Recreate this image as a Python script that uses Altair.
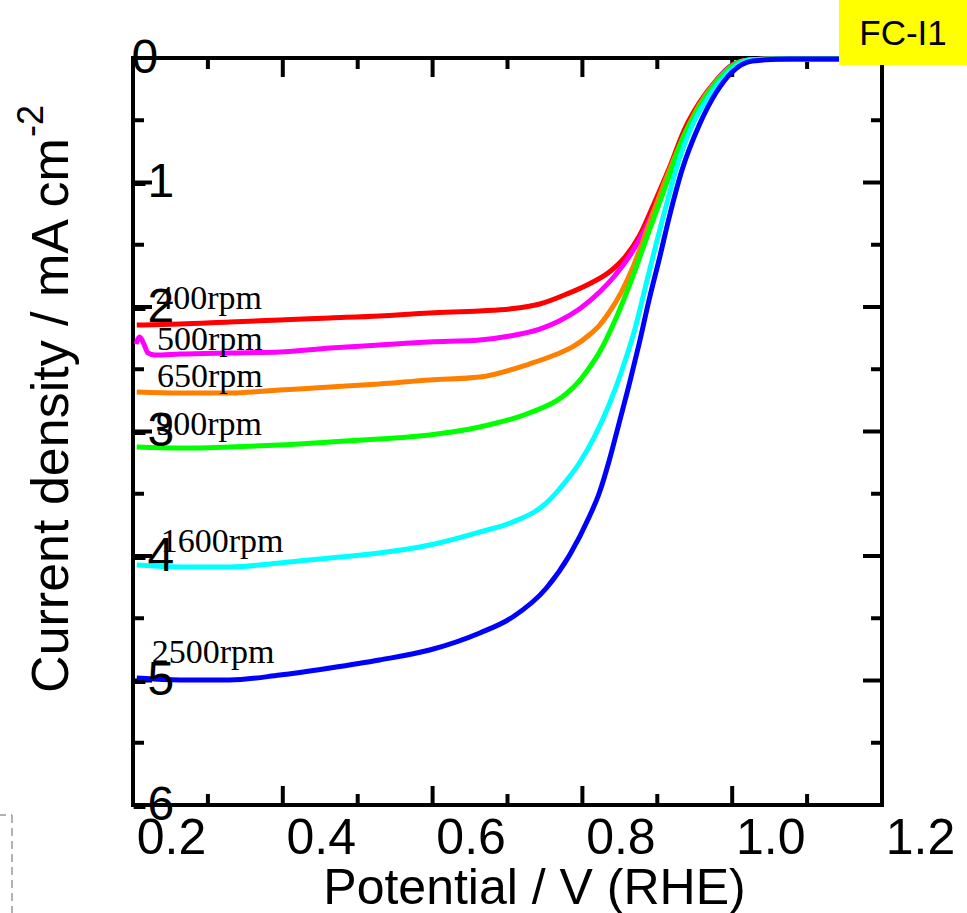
import altair as alt
import pandas as pd

# ---------------- data (Potential V vs RHE, current density mA cm-2) ----------------
series_names = ["400rpm", "500rpm", "650rpm", "900rpm", "1600rpm", "2500rpm"]
series_colors = ["#FF0000", "#FF00FF", "#FF8000", "#00FF00", "#00FFFF", "#0000FF"]

v_400 = [0.205, 0.263, 0.329, 0.396, 0.463, 0.529, 0.596, 0.663, 0.703, 0.743, 0.779, 0.809, 0.836,
         0.856, 0.876, 0.896, 0.916, 0.936, 0.956, 0.979, 1.000, 1.023, 1.063, 1.129, 1.196]
j_400 = [-2.145, -2.137, -2.120, -2.104, -2.088, -2.072, -2.048, -2.032, -2.016, -1.976, -1.896, -1.815,
         -1.719, -1.606, -1.430, -1.165, -0.884, -0.578, -0.361, -0.177, -0.056, -0.016, -0.008,
         -0.008, -0.008]

v_500 = [0.204, 0.209, 0.215, 0.220, 0.229, 0.263, 0.329, 0.396, 0.463, 0.529, 0.596, 0.663, 0.703,
         0.743, 0.769, 0.796, 0.823, 0.843, 0.863, 0.883, 0.903, 0.923, 0.943, 0.963, 0.983, 1.003,
         1.023, 1.063, 1.129, 1.196]
j_500 = [-2.297, -2.241, -2.305, -2.369, -2.386, -2.378, -2.369, -2.361, -2.329, -2.305, -2.281, -2.265,
         -2.233, -2.177, -2.112, -2.016, -1.880, -1.751, -1.590, -1.382, -1.116, -0.819, -0.538,
         -0.313, -0.153, -0.048, -0.016, -0.008, -0.008, -0.008]

v_650 = [0.205, 0.263, 0.329, 0.396, 0.463, 0.529, 0.596, 0.663, 0.729, 0.763, 0.789, 0.809, 0.823,
         0.836, 0.852, 0.867, 0.889, 0.912, 0.936, 0.956, 0.979, 1.000, 1.023, 1.063, 1.129, 1.196]
j_650 = [-2.683, -2.691, -2.691, -2.667, -2.643, -2.618, -2.586, -2.562, -2.458, -2.386, -2.313, -2.225,
         -2.145, -2.040, -1.880, -1.687, -1.333, -0.964, -0.618, -0.378, -0.185, -0.064, -0.016,
         -0.008, -0.008, -0.008]

v_900 = [0.205, 0.263, 0.329, 0.396, 0.463, 0.529, 0.596, 0.663, 0.729, 0.773, 0.796, 0.809, 0.823,
         0.845, 0.867, 0.889, 0.912, 0.933, 0.956, 0.979, 1.000, 1.023, 1.063, 1.129, 1.196]
j_900 = [-3.124, -3.133, -3.124, -3.108, -3.084, -3.060, -3.028, -2.964, -2.851, -2.723, -2.594, -2.490,
         -2.361, -2.088, -1.759, -1.390, -1.012, -0.659, -0.394, -0.193, -0.064, -0.016,
         -0.008, -0.008, -0.008]

v_1600 = [0.205, 0.263, 0.329, 0.396, 0.463, 0.529, 0.596, 0.663, 0.707, 0.752, 0.776, 0.796, 0.816,
          0.836, 0.852, 0.869, 0.889, 0.912, 0.929, 0.945, 0.963, 0.983, 1.003, 1.023, 1.063, 1.129, 1.196]
j_1600 = [-4.072, -4.088, -4.088, -4.056, -4.016, -3.976, -3.912, -3.807, -3.727, -3.574, -3.414, -3.253,
          -3.044, -2.779, -2.522, -2.201, -1.719, -1.181, -0.819, -0.562, -0.361, -0.193, -0.072,
          -0.016, -0.008, -0.008, -0.008]

v_2500 = [0.205, 0.263, 0.329, 0.396, 0.463, 0.529, 0.596, 0.663, 0.707, 0.752, 0.783, 0.809, 0.823,
          0.836, 0.849, 0.863, 0.876, 0.889, 0.903, 0.916, 0.933, 0.956, 0.979, 1.000, 1.027, 1.076,
          1.129, 1.196]
j_2500 = [-4.980, -4.996, -4.996, -4.956, -4.899, -4.835, -4.755, -4.618, -4.490, -4.257, -3.992, -3.687,
          -3.486, -3.229, -2.932, -2.610, -2.289, -1.944, -1.606, -1.277, -0.900, -0.538, -0.273,
          -0.112, -0.024, -0.008, -0.008, -0.008]

# curve labels (anchor in data units)
label_text = ["400rpm", "500rpm", "650rpm", "900rpm", "1600rpm", "2500rpm"]
label_v = [0.231, 0.232, 0.232, 0.231, 0.237, 0.225]
label_j = [-2.016, -2.345, -2.643, -3.028, -3.968, -4.859]

# axes ticks
x_label_values = [0.2, 0.4, 0.6, 0.8, 1.0, 1.2]
x_major_ticks = [0.4, 0.6, 0.8, 1.0]
x_minor_ticks = [0.3, 0.5, 0.7, 0.9, 1.1]
y_label_values = [0, -1, -2, -3, -4, -5, -6]
y_major_ticks = [-1, -2, -3, -4, -5]
y_minor_ticks = [-0.5, -1.5, -2.5, -3.5, -4.5, -5.5]

# ---------------- chart ----------------
W, H = 749, 747
FONT = "Liberation Sans"
MAJ, MIN = 19, 11

xscale = alt.Scale(domain=[0.2, 1.2], nice=False, zero=False)
yscale = alt.Scale(domain=[-6, 0], nice=False, zero=False)

xaxis = alt.Axis(values=x_label_values, format=".1f", ticks=False, tickSize=0, domain=False, grid=False,
                 labelFont=FONT, labelFontSize=50, labelColor="black", labelPadding=8, labelOffset=38,
                 labelFlush=False, labelOverlap=False,
                 title="Potential / V (RHE)", titleFont=FONT, titleFontSize=50, titleFontWeight="normal",
                 titleColor="black", titleX=401, titleY=98, titleAlign="center", titleBaseline="alphabetic")
yaxis = alt.Axis(values=y_label_values, labelExpr="toString(datum.value)", ticks=False, tickSize=0,
                 domain=False, grid=False, labelFont=FONT, labelFontSize=48, labelColor="black",
                 labelAlign="left", labelBaseline="middle", labelPadding=2, labelFlush=False,
                 labelOverlap=False, zindex=1,
                 title="Current density / mA cm", titleFont=FONT, titleFontSize=52, titleFontWeight="normal",
                 titleColor="black", titleX=-66, titleY=357, titleAngle=270, titleAlign="center",
                 titleBaseline="alphabetic")

X = alt.X("V:Q", scale=xscale, axis=xaxis)
Y = alt.Y("J:Q", scale=yscale, axis=yaxis)

# frame
frame = alt.Chart(pd.DataFrame({"a": [0]})).mark_rect(fill=None, stroke="black", strokeWidth=4).encode(
    x=alt.value(0), x2=alt.value(W), y=alt.value(0), y2=alt.value(H))

def xticks(vals, length):
    d = pd.DataFrame({"V": vals})
    bottom = alt.Chart(d).mark_rule(color="black", strokeWidth=4).encode(
        x=X, y=alt.value(H), y2=alt.value(H - length))
    top = alt.Chart(d).mark_rule(color="black", strokeWidth=4).encode(
        x=X, y=alt.value(0), y2=alt.value(length))
    return [bottom, top]

def yticks(vals, length):
    d = pd.DataFrame({"J": vals})
    left = alt.Chart(d).mark_rule(color="black", strokeWidth=4).encode(
        y=Y, x=alt.value(0), x2=alt.value(length))
    right = alt.Chart(d).mark_rule(color="black", strokeWidth=4).encode(
        y=Y, x=alt.value(W), x2=alt.value(W - length))
    return [left, right]

tick_layers = xticks(x_major_ticks, MAJ) + xticks(x_minor_ticks, MIN) + \
    yticks(y_major_ticks, MAJ) + yticks(y_minor_ticks, MIN)

all_v = [v_400, v_500, v_650, v_900, v_1600, v_2500]
all_j = [j_400, j_500, j_650, j_900, j_1600, j_2500]
line_layers = []
for name, col, vs, js in zip(series_names, series_colors, all_v, all_j):
    d = pd.DataFrame({"V": vs, "J": js, "series": name})
    line_layers.append(
        alt.Chart(d).mark_line(color=col, strokeWidth=5, interpolate="monotone").encode(x=X, y=Y)
    )

labels = alt.Chart(pd.DataFrame({"V": label_v, "J": label_j, "t": label_text})).mark_text(
    font="Liberation Serif", fontSize=34, align="left", baseline="alphabetic", color="black"
).encode(x=X, y=Y, text="t:N")

sup = alt.Chart(pd.DataFrame({"t": ["-2"]})).mark_text(
    font=FONT, fontSize=36, angle=270, align="left", baseline="alphabetic", color="black"
).encode(x=alt.value(-90), y=alt.value(79), text="t:N")

box = alt.Chart(pd.DataFrame({"t": ["FC-I1"]})).mark_rect(fill="#FFFF00", stroke=None).encode(
    x=alt.value(706), x2=alt.value(834), y=alt.value(-58), y2=alt.value(7))
box_text = alt.Chart(pd.DataFrame({"t": ["FC-I1"]})).mark_text(
    font=FONT, fontSize=35, align="center", baseline="alphabetic", color="black"
).encode(x=alt.value(770), y=alt.value(-13), text="t:N")

dash_v = alt.Chart(pd.DataFrame({"a": [0]})).mark_rule(color="#999999", strokeWidth=1.5, strokeDash=[8, 5]).encode(
    x=alt.value(-121), y=alt.value(757), y2=alt.value(860))
dash_h = alt.Chart(pd.DataFrame({"a": [0]})).mark_rule(color="#999999", strokeWidth=1.5, strokeDash=[8, 5]).encode(
    x=alt.value(-135), x2=alt.value(-121), y=alt.value(757))

chart = alt.layer(frame, *tick_layers, *line_layers, labels, sup, box, box_text, dash_v, dash_h).properties(
    width=W, height=H,
    autosize=alt.AutoSizeParams(type="none"),
    padding={"left": 133, "top": 58, "right": 85, "bottom": 108},
    background="white",
).configure_view(stroke=None)

chart.save("out.html", embed_options={"renderer": "svg", "actions": False})
